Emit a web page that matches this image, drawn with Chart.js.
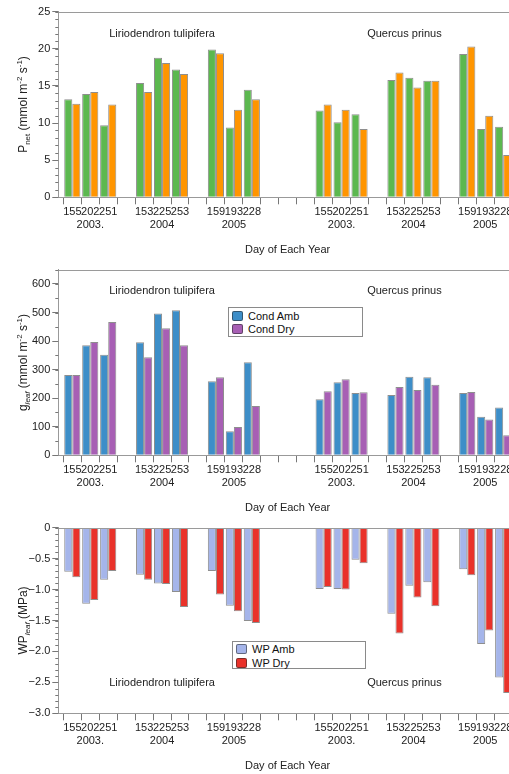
<!DOCTYPE html>
<html>
<head>
<meta charset="utf-8">
<script src="https://cdn.jsdelivr.net/npm/chart.js@4.4.0/dist/chart.umd.min.js"></script>
<style>
  html, body { margin: 0; padding: 0; background: #fff; overflow: hidden; }
  .panel { position: absolute; left: 0; width: 530px; height: 258px; }
  .legend { position: absolute; box-sizing: border-box; border: 1px solid #8a8a8a; background: #fff;
            font: 11px 'Liberation Sans', Arial, sans-serif; color: #111; padding-left: 3px; }
  .legend .row { display: flex; align-items: center; }
  .legend .sw { display: inline-block; width: 11px; height: 10px; border-radius: 2px; margin-right: 5px;
                box-sizing: border-box; border: 1px solid rgba(40, 40, 40, 0.55); }
</style>
</head>
<body>
<div class="panel" style="top:0"><canvas id="pnetChart"></canvas></div>
<div class="panel" style="top:258px"><canvas id="gleafChart"></canvas></div>
<div class="panel" style="top:516px"><canvas id="wpChart"></canvas></div>
<div class="legend" id="gleafLegend" style="left:228px;top:307px;width:135px;height:30px;padding-top:1px"></div>
<div class="legend" id="wpLegend" style="left:232px;top:641px;width:134px;height:28px;padding-top:0"></div>
<script>
// day of year for each measurement (same days for both species)
const days = ['155', '202', '251', '153', '225', '253', '159', '193', '228'];
const years = ['2003.', '2004', '2005'];
const species = ['Liriodendron tulipifera', 'Quercus prinus'];

// order: Liriodendron 2003..2005, then Quercus 2003..2005
const pnetAmb = [13.2, 13.9, 9.7, 15.4, 18.8, 17.2, 19.9, 9.4, 14.5,
                 11.7, 10.1, 11.2, 15.8, 16.1, 15.7, 19.3, 9.2, 9.5];
const pnetDry = [12.6, 14.2, 12.5, 14.2, 18.1, 16.6, 19.4, 11.8, 13.2,
                 12.5, 11.8, 9.2, 16.8, 14.8, 15.7, 20.3, 11.0, 5.7];
const condAmb = [281, 385, 352, 396, 497, 508, 259, 84, 326,
                 196, 256, 218, 211, 275, 273, 218, 135, 167];
const condDry = [281, 397, 467, 343, 445, 385, 273, 99, 173,
                 224, 266, 221, 239, 229, 247, 222, 125, 70];
const wpAmb = [-0.71, -1.23, -0.84, -0.76, -0.90, -1.04, -0.70, -1.26, -1.51,
               -0.99, -0.99, -0.52, -1.39, -0.94, -0.88, -0.67, -1.88, -2.42];
const wpDry = [-0.80, -1.17, -0.70, -0.84, -0.91, -1.28, -1.08, -1.35, -1.54,
               -0.96, -1.00, -0.575, -1.71, -1.13, -1.27, -0.77, -1.66, -2.67];

const pnetTicks = [0, 5, 10, 15, 20, 25];
const gleafTicks = [0, 100, 200, 300, 400, 500, 600];
const wpTicks = [-3, -2.5, -2, -1.5, -1, -0.5, 0];

Chart.defaults.font.family = "'Liberation Sans', Arial, sans-serif";
Chart.defaults.font.size = 11;
Chart.defaults.color = '#222';

// slot on the x axis: 3 days per year, one empty slot between years, three between species
function slotOf(i) {
    const s = Math.floor(i / 9), yr = Math.floor((i % 9) / 3), d = i % 3;
    return s * 14 + yr * 4 + d;
}
const slotLabels = new Array(26).fill('');
for (let i = 0; i < 18; i++) {
    const d = i % 3, yr = Math.floor((i % 9) / 3);
    slotLabels[slotOf(i)] = d === 1 ? [days[i % 9], years[yr]] : days[i % 9];
}
const toPoints = values => values.map((v, i) => ({ x: slotOf(i) + 0.5, y: v }));

const panelDecor = {
    id: 'panelDecor',
    afterDraw(chart, args, opts) {
        const { ctx, chartArea: a, scales: { x, y } } = chart;
        ctx.save();
        ctx.lineWidth = 1;
        ctx.strokeStyle = '#9a9a9a';
        ctx.beginPath();
        ctx.moveTo(a.left, Math.round(a.top) + 0.5);
        ctx.lineTo(a.right, Math.round(a.top) + 0.5);
        ctx.stroke();

        // minor ticks
        ctx.strokeStyle = '#777';
        const n = Math.round((y.max - y.min) / opts.minorStep);
        for (let k = 0; k <= n; k++) {
            const py = Math.round(y.getPixelForValue(y.min + k * opts.minorStep)) + 0.5;
            ctx.beginPath();
            ctx.moveTo(a.left - 3, py);
            ctx.lineTo(a.left, py);
            ctx.stroke();
        }

        // species names
        ctx.fillStyle = '#222';
        ctx.font = "11px 'Liberation Sans', Arial, sans-serif";
        ctx.textAlign = 'center';
        ctx.textBaseline = 'middle';
        const labelX = [5.5, 19];
        species.forEach((name, i) => {
            ctx.fillText(name, x.getPixelForValue(labelX[i]), y.getPixelForValue(opts.labelY));
        });

        // y axis title with sub/superscripts
        const fontFor = seg => (seg.italic ? 'italic ' : '') + (seg.sub || seg.sup ? '8px' : '12px') +
            " 'Liberation Sans', Arial, sans-serif";
        let total = 0;
        opts.title.forEach(seg => { ctx.font = fontFor(seg); total += ctx.measureText(seg.t).width; });
        ctx.translate(23, (a.top + a.bottom) / 2);
        ctx.rotate(-Math.PI / 2);
        ctx.textAlign = 'left';
        ctx.textBaseline = 'alphabetic';
        let cx = -total / 2;
        opts.title.forEach(seg => {
            ctx.font = fontFor(seg);
            const dy = seg.sub ? 7 : (seg.sup ? -1 : 4);
            ctx.fillText(seg.t, cx, dy);
            cx += ctx.measureText(seg.t).width;
        });
        ctx.restore();
    }
};

function panelOptions(yMin, yMax, yTicks, yFormat, decor) {
    return {
        responsive: true,
        maintainAspectRatio: false,
        animation: false,
        layout: { padding: { top: 11.7, right: 13, bottom: 0, left: 0 } },
        datasets: { bar: { categoryPercentage: 0.9, barPercentage: 1.0 } },
        plugins: {
            legend: { display: false },
            tooltip: { enabled: false },
            panelDecor: decor
        },
        scales: {
            x: {
                type: 'linear',
                min: -0.28,
                max: 25.27,
                bounds: 'data',
                offset: false,
                afterBuildTicks: axis => { axis.ticks = slotLabels.map((_, i) => ({ value: i })); },
                afterFit: axis => { axis.height = 60.7; },
                grid: { offset: false, drawOnChartArea: false, drawTicks: true, tickLength: 7, tickColor: '#777' },
                border: { display: true, color: '#999' },
                ticks: {
                    autoSkip: false, maxRotation: 0, minRotation: 0, padding: 1, labelOffset: 9,
                    callback: v => slotLabels[v] ?? ''
                },
                title: { display: true, text: 'Day of Each Year', padding: { top: 4, bottom: 1 } }
            },
            y: {
                min: yMin,
                max: yMax,
                bounds: 'data',
                afterBuildTicks: axis => { axis.ticks = yTicks.map(v => ({ value: v })); },
                afterFit: axis => { axis.width = 58.3; },
                grid: { drawOnChartArea: false, drawTicks: true, tickLength: 6, tickColor: '#777' },
                border: { display: true, color: '#999' },
                ticks: { padding: 2, callback: yFormat }
            }
        }
    };
}

const barBorder = 'rgba(50, 50, 50, 0.55)';

const pnetChart = new Chart(document.getElementById('pnetChart'), {
    type: 'bar',
    data: {
        datasets: [
            { label: 'Pnet Amb', data: toPoints(pnetAmb), backgroundColor: '#5cb84f', borderColor: barBorder, borderWidth: 1 },
            { label: 'Pnet Dry', data: toPoints(pnetDry), backgroundColor: '#ff9500', borderColor: barBorder, borderWidth: 1 }
        ]
    },
    options: panelOptions(0, 25, pnetTicks, v => String(v), {
        minorStep: 1, labelY: 22,
        title: [{ t: 'P' }, { t: 'net', sub: true }, { t: ' (mmol m' }, { t: '-2', sup: true },
                { t: ' s' }, { t: '-1', sup: true }, { t: ')' }]
    }),
    plugins: [panelDecor]
});

const gleafChart = new Chart(document.getElementById('gleafChart'), {
    type: 'bar',
    data: {
        datasets: [
            { label: 'Cond Amb', data: toPoints(condAmb), backgroundColor: '#3d8ec8', borderColor: barBorder, borderWidth: 1 },
            { label: 'Cond Dry', data: toPoints(condDry), backgroundColor: '#a75fb4', borderColor: barBorder, borderWidth: 1 }
        ]
    },
    options: panelOptions(0, 650, gleafTicks, v => String(v), {
        minorStep: 50, labelY: 574,
        title: [{ t: 'g' }, { t: 'leaf', sub: true, italic: true }, { t: ' (mmol m' }, { t: '-2', sup: true },
                { t: ' s' }, { t: '-1', sup: true }, { t: ')' }]
    }),
    plugins: [panelDecor]
});

const wpChart = new Chart(document.getElementById('wpChart'), {
    type: 'bar',
    data: {
        datasets: [
            { label: 'WP Amb', data: toPoints(wpAmb), backgroundColor: '#a5b5ea', borderColor: barBorder, borderWidth: 1 },
            { label: 'WP Dry', data: toPoints(wpDry), backgroundColor: '#e9322a', borderColor: barBorder, borderWidth: 1 }
        ]
    },
    options: panelOptions(-3, 0, wpTicks, v => v === 0 ? '0' : v.toFixed(1).replace('-', '\u2212'), {
        minorStep: 0.1, labelY: -2.51,
        title: [{ t: 'WP' }, { t: 'leaf', sub: true, italic: true }, { t: ' (MPa)' }]
    }),
    plugins: [panelDecor]
});

function fillLegend(el, chart, rowHeight) {
    chart.data.datasets.forEach(ds => {
        const row = document.createElement('div');
        row.className = 'row';
        row.style.height = rowHeight + 'px';
        const sw = document.createElement('span');
        sw.className = 'sw';
        sw.style.background = ds.backgroundColor;
        row.appendChild(sw);
        row.appendChild(document.createTextNode(ds.label));
        el.appendChild(row);
    });
}
fillLegend(document.getElementById('gleafLegend'), gleafChart, 13);
fillLegend(document.getElementById('wpLegend'), wpChart, 14);
</script>
</body>
</html>
